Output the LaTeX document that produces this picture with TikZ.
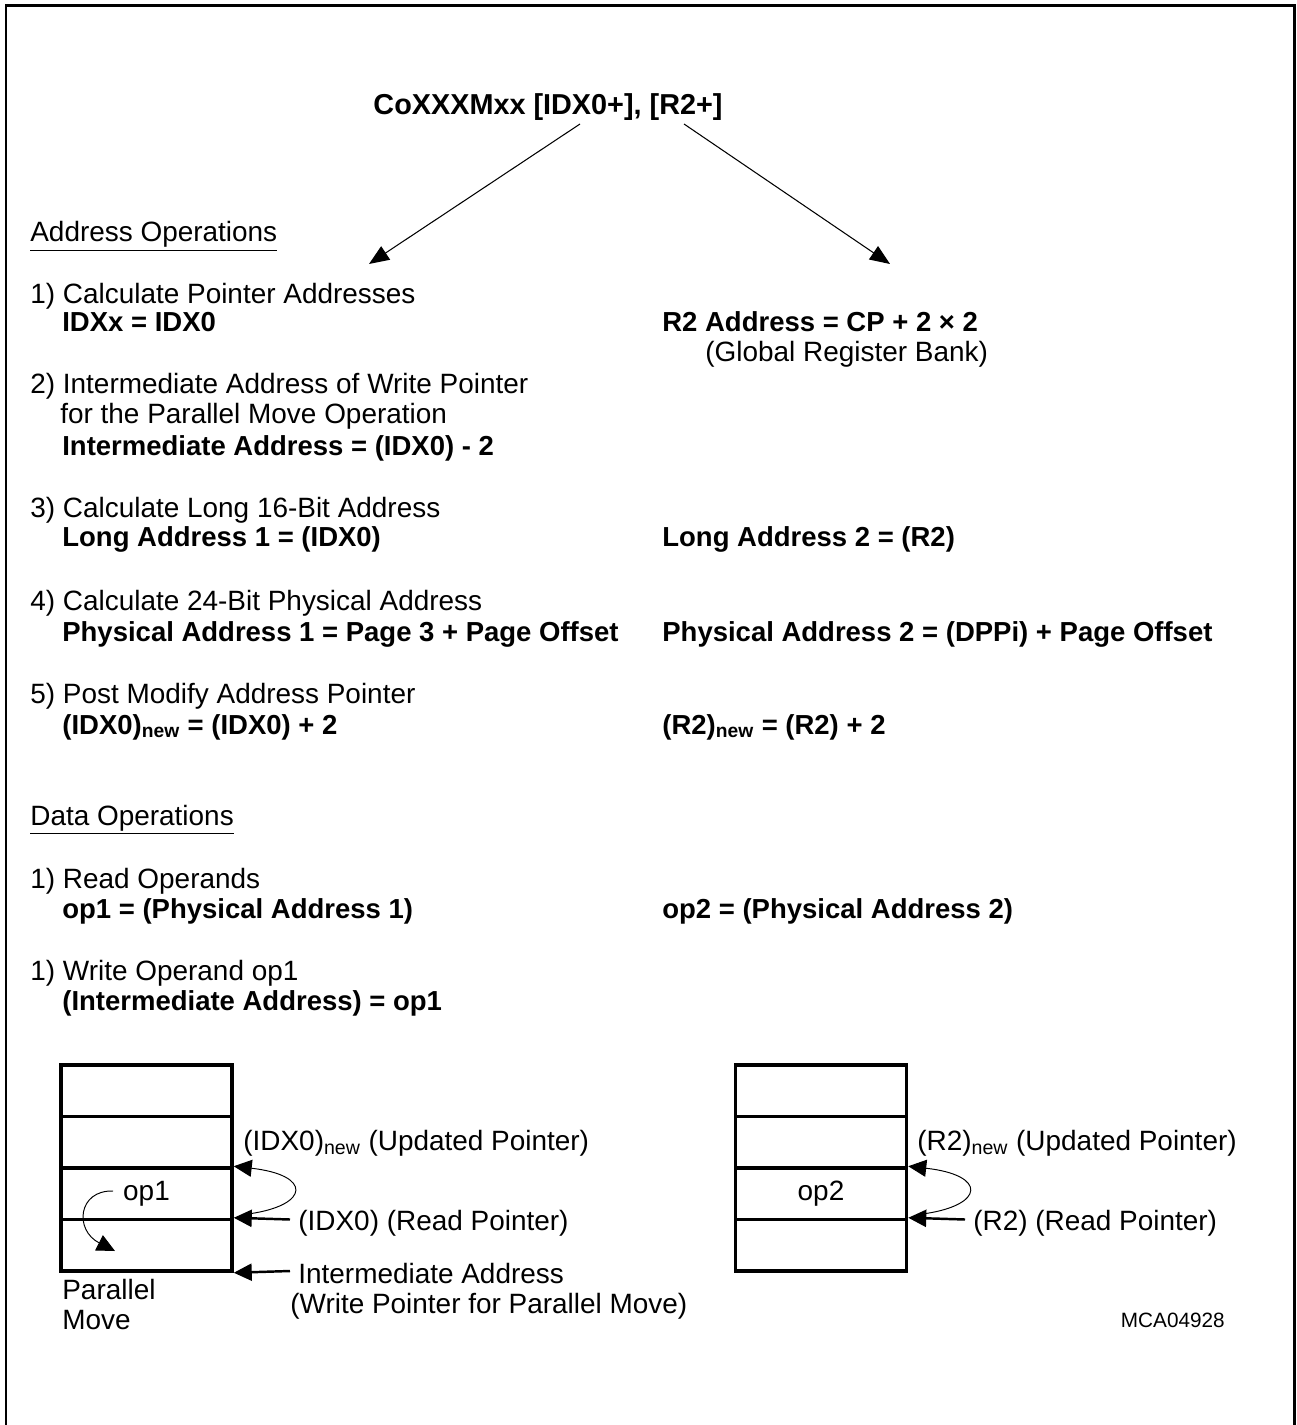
\documentclass[tikz,border=0pt]{standalone}
\usepackage{fontspec}
\setmainfont{Liberation Sans}
\usetikzlibrary{arrows.meta}

\tikzset{
  txt/.style={anchor=base west,inner sep=0pt,font=\fontsize{15.9pt}{17pt}\selectfont},
  bld/.style={txt,font=\fontsize{15.65pt}{17pt}\selectfont\bfseries},
  tiny/.style={anchor=base east,inner sep=0pt,font=\fontsize{11.8pt}{13pt}\selectfont},
  cell/.style={draw,line width=2pt,minimum width=3.42cm,minimum height=1.03cm,inner sep=0pt},
  ptrline/.style={line width=1.4pt,-{Triangle[length=0.36cm,width=0.34cm]}},
  curlline/.style={line width=0.55pt,-{Triangle[length=0.36cm,width=0.34cm]}},
  opline/.style={line width=0.6pt,-{Triangle[length=0.4cm,width=0.32cm]}},
}

\begin{document}
\begin{tikzpicture}[x=0.02cm,y=-0.02cm]
  \def\rh{51.5} % row height
  \def\ty{1065} % top of the memory boxes
  \useasboundingbox (0,0) rectangle (1296,1425);
  \draw[line width=1.7pt] (6,1440) -- (6,6) -- (1294,6) -- (1294,1440);

  % instruction
  \node[bld,anchor=base,font=\fontsize{16.4pt}{17pt}\selectfont\bfseries] (title) at (548,115) {CoXXXMxx [IDX0+], [R2+]};
  \coordinate (srcL) at (580,124);
  \coordinate (srcR) at (684,124);
  \coordinate (dstL) at (369,264);
  \coordinate (dstR) at (890,264);
  \draw[opline] (srcL) -- (dstL);
  \draw[opline] (srcR) -- (dstR);

  % address operations
  \node[txt] (addrops) at (30,242) {\underline{Address Operations}};
  \node[txt] (calcptr) at (30,304) {1) Calculate Pointer Addresses};
  \node[bld] (idxx) at (62,332) {IDXx = IDX0};
  \node[bld] (r2addr) at (662,332) {R2 Address = CP + 2 × 2};
  \node[txt] (grb) at (705,361) {(Global Register Bank)};
  \node[txt] (interA) at (30,394) {2) Intermediate Address of Write Pointer};
  \node[txt] (interB) at (60,423) {for the Parallel Move Operation};
  \node[bld] (interm) at (62,455) {Intermediate Address = (IDX0) - 2};
  \node[txt] (calclong) at (30,517) {3) Calculate Long 16-Bit Address};
  \node[bld] (long1) at (62,546) {Long Address 1 = (IDX0)};
  \node[bld] (long2) at (662,546) {Long Address 2 = (R2)};
  \node[txt] (calcphys) at (30,610) {4) Calculate 24-Bit Physical Address};
  \node[bld] (phys1) at (62,641) {Physical Address 1 = Page 3 + Page Offset};
  \node[bld] (phys2) at (662,641) {Physical Address 2 = (DPPi) + Page Offset};
  \node[txt] (postmod) at (30,703) {5) Post Modify Address Pointer};
  \node[bld] (idxnew) at (62,734) {(IDX0)\textsubscript{new} = (IDX0) + 2};
  \node[bld] (r2new) at (662,734) {(R2)\textsubscript{new} = (R2) + 2};

  % data operations
  \node[txt] (dataops) at (30,825) {\underline{Data Operations}};
  \node[txt] (readops) at (30,888) {1) Read Operands};
  \node[bld] (op1rd) at (62,918) {op1 = (Physical Address 1)};
  \node[bld] (op2rd) at (662,918) {op2 = (Physical Address 2)};
  \node[txt] (writeop) at (30,980) {1) Write Operand op1};
  \node[bld] (op1wr) at (62,1010) {(Intermediate Address) = op1};

  % memory boxes
  \foreach \i in {0,...,3}{
    \node[cell] (L\i) at (146.5,{\ty+\rh*(\i+0.5)}) {};
    \node[cell] (R\i) at (821,{\ty+\rh*(\i+0.5)}) {};
  }
  \node[txt,anchor=center] (op1) at (L2) {op1};
  \node[txt,anchor=center] (op2) at (R2) {op2};

  % left box
  \node[txt] (updL) at (243,1150) {(IDX0)\textsubscript{new} (Updated Pointer)};
  \node[txt] (readL) at (298,1230) {(IDX0) (Read Pointer)};
  \node[txt] (wrA) at (298,1283) {Intermediate Address};
  \node[txt] (wrB) at (290,1313) {(Write Pointer for Parallel Move)};
  \node[txt] (parA) at (62,1299) {Parallel};
  \node[txt] (parB) at (62,1329) {Move};
  \coordinate (rdL) at (290,1219.5);
  \coordinate (wrL) at (290,1271);
  \coordinate (mvA) at (113,1191);
  \coordinate (mvB) at (115,1251);
  \draw[ptrline] (rdL) -- (L3.north east);
  \draw[ptrline] (wrL) -- (L3.south east);
  \draw[curlline] (L3.north east) ++(16,-4) .. controls (310,1205) and (312,1175) .. (L2.north east);
  \draw[curlline] (mvA) .. controls (78,1190) and (74,1230) .. (mvB);

  % right box
  \node[txt] (updR) at (917,1150) {(R2)\textsubscript{new} (Updated Pointer)};
  \node[txt] (readR) at (973,1230) {(R2) (Read Pointer)};
  \coordinate (rdR) at (965,1219.5);
  \draw[ptrline] (rdR) -- (R3.north east);
  \draw[curlline] (R3.north east) ++(16,-4) .. controls (985,1205) and (987,1175) .. (R2.north east);

  \node[tiny] (figid) at (1225,1327) {MCA04928};
\end{tikzpicture}
\end{document}
